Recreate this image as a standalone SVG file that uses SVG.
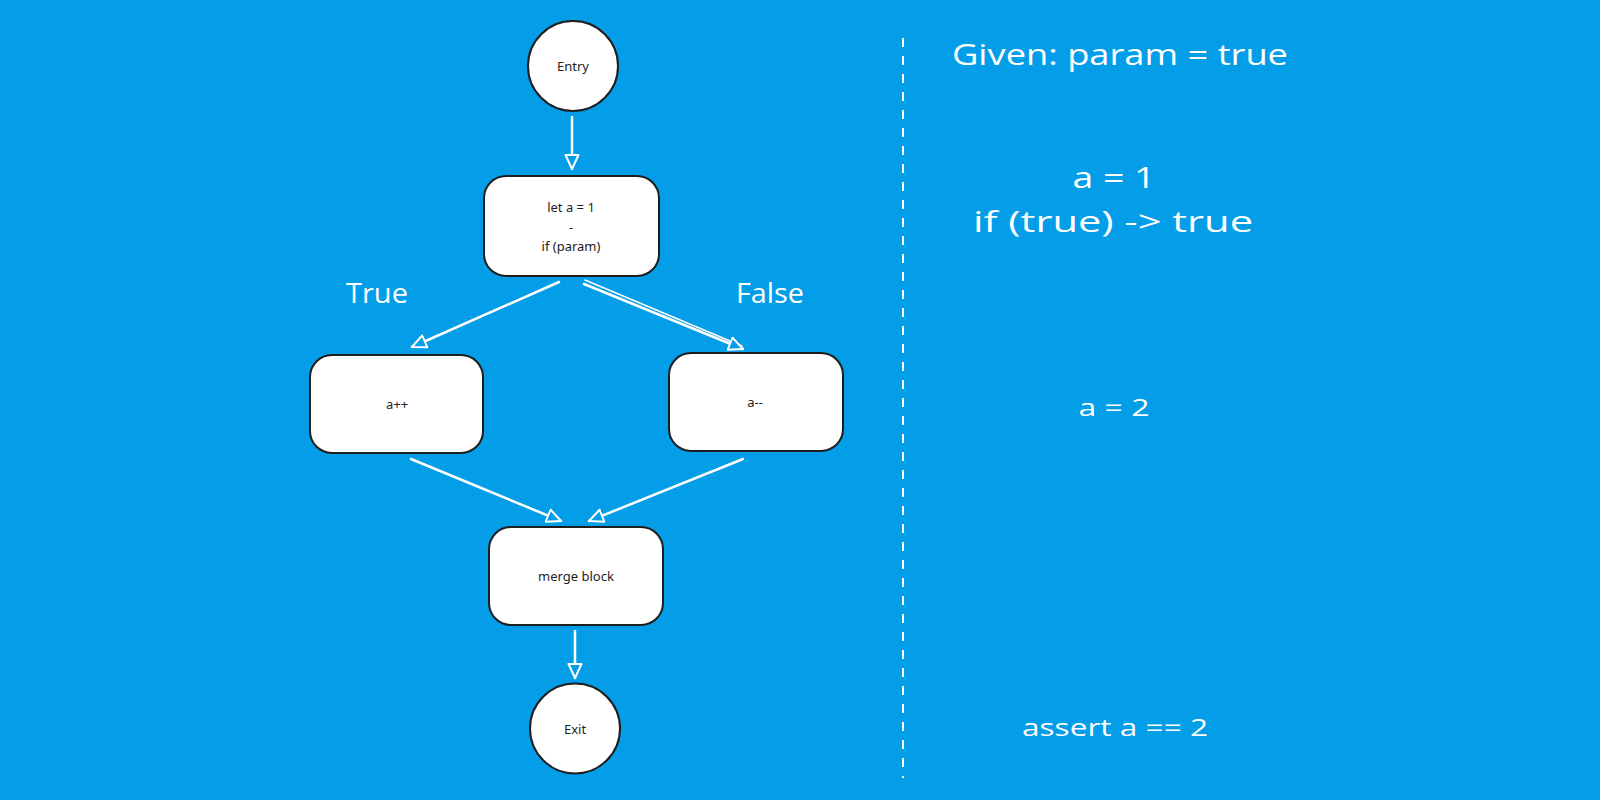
<svg xmlns="http://www.w3.org/2000/svg" width="1600" height="800" viewBox="0 0 1600 800">
  <style>
    .node { fill: #ffffff; stroke: #1e1e1e; stroke-width: 2; }
    .ntext { font-family: "Noto Sans", Lato, sans-serif; font-size: 13px; fill: #1e1e1e; text-anchor: middle; dominant-baseline: central; }
    .conn { stroke: #ffffff; stroke-width: 2.5; fill: none; stroke-linecap: round; marker-end: url(#arrow); }
    .hand { font-family: "Open Sans", "Liberation Sans", sans-serif; fill: #ffffff; text-anchor: middle; }
  </style>
  <defs>
    <marker id="arrow" viewBox="0 0 16 16" refX="15" refY="8" markerWidth="16" markerHeight="16" markerUnits="userSpaceOnUse" orient="auto">
      <path d="M1,1.5 L15,8 L1,14.5 Z" fill="#039de8" stroke="#ffffff" stroke-width="2" stroke-linejoin="round"/>
    </marker>
  </defs>
  <rect x="0" y="0" width="1600" height="800" fill="#039de8"/>

  <g id="connectors">
    <path class="conn" d="M572,117 L572,169"/>
    <path class="conn" d="M559,282 L412,347"/>
    <path d="M585,280 L742,346" stroke="#ffffff" stroke-width="1.5" fill="none" stroke-linecap="round"/>
    <path class="conn" d="M584,284 L743,349"/>
    <path class="conn" d="M411,459 L561,521"/>
    <path class="conn" d="M743,459 L589,521"/>
    <path class="conn" d="M575,631 L575,678"/>
  </g>

  <g id="entry">
    <circle class="node" cx="573" cy="66" r="45"/>
    <text class="ntext" x="573" y="66" font-size="12">Entry</text>
  </g>
  <g id="block1">
    <rect class="node" x="484" y="176" width="175" height="100" rx="22"/>
    <text class="ntext" x="571" y="207">let a = 1</text>
    <text class="ntext" x="571" y="227">-</text>
    <text class="ntext" x="571" y="246">if (param)</text>
  </g>
  <g id="inc">
    <rect class="node" x="310" y="355" width="173" height="98" rx="22"/>
    <text class="ntext" x="397" y="404" font-size="12">a++</text>
  </g>
  <g id="dec">
    <rect class="node" x="669" y="353" width="174" height="98" rx="22"/>
    <text class="ntext" x="755" y="402" font-size="12">a--</text>
  </g>
  <g id="merge">
    <rect class="node" x="489" y="527" width="174" height="98" rx="22"/>
    <text class="ntext" x="576" y="576" font-size="13.5">merge block</text>
  </g>
  <g id="exit">
    <circle class="node" cx="575" cy="728.5" r="45"/>
    <text class="ntext" x="575" y="728.5" font-size="12">Exit</text>
  </g>

  <g id="edge-labels">
    <text class="hand" x="377" y="303" font-size="27" textLength="62" lengthAdjust="spacingAndGlyphs">True</text>
    <text class="hand" x="770" y="303" font-size="27" textLength="68" lengthAdjust="spacingAndGlyphs">False</text>
  </g>

  <line x1="903" y1="38" x2="903" y2="778" stroke="#ffffff" stroke-width="2" stroke-dasharray="9 9"/>

  <g id="notes">
    <text class="hand" x="1120" y="65" font-size="30" textLength="336" lengthAdjust="spacingAndGlyphs">Given: param = true</text>
    <text class="hand" x="1114" y="188" font-size="30" textLength="83" lengthAdjust="spacingAndGlyphs">a = 1</text>
    <text class="hand" x="1113" y="232" font-size="30" textLength="280" lengthAdjust="spacingAndGlyphs">if (true) -&gt; true</text>
    <text class="hand" x="1114" y="416" font-size="24" textLength="71" lengthAdjust="spacingAndGlyphs">a = 2</text>
    <text class="hand" x="1115" y="736" font-size="24" textLength="186" lengthAdjust="spacingAndGlyphs">assert a == 2</text>
  </g>
</svg>
